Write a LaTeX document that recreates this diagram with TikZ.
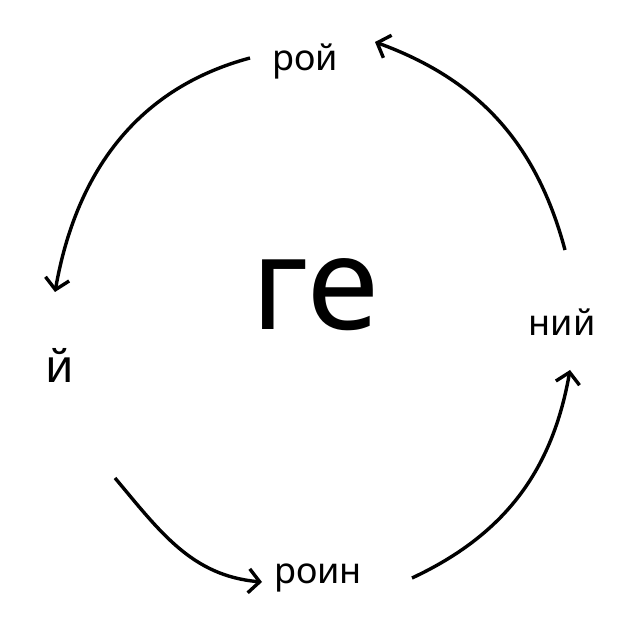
\documentclass[tikz,border=0pt]{standalone}
\usepackage{fontspec}
\setmainfont{Noto Sans}
\usetikzlibrary{arrows.meta}
\begin{document}
\begin{tikzpicture}[x=1pt,y=1pt,
  arr/.style={line width=3.4pt,-{Straight Barb[length=11pt,width=24pt,line width=3.4pt]}},
  lab/.style={font=\fontsize{36}{42}\selectfont,inner sep=0pt}]
\useasboundingbox (0,0) rectangle (640,640);
\node[font=\fontsize{130}{140}\selectfont,inner sep=0pt] (ge) at (315,345) {ге};
\node[lab] (roy) at (305,578) {рой};
\node[lab] (niy) at (562,318) {ний};
\node[lab] (roin) at (318,62) {роин};
\node[lab,font=\fontsize{46}{50}\selectfont] (y) at (60,275) {й};
\coordinate (a1) at (250,582); \coordinate (b1) at (55,348);
\coordinate (a2) at (565,390); \coordinate (b2) at (375,598);
\coordinate (a3) at (115,162); \coordinate (b3) at (262,58);
\coordinate (a4) at (412,62);  \coordinate (b4) at (570,270);
\draw[arr] (a1) to[out=195,in=80] (b1);
\draw[arr] (a2) to[out=105,in=-20] (b2);
\draw[arr] (a3) to[out=-50,in=175] (b3);
\draw[arr] (a4) to[out=25,in=-100] (b4);
\end{tikzpicture}
\end{document}
